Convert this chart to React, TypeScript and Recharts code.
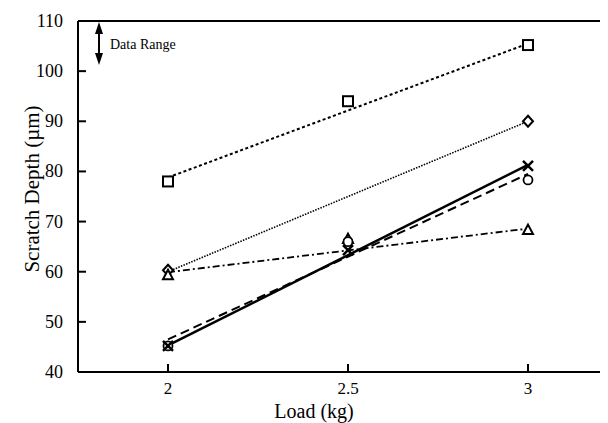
import { ComposedChart, Line, Scatter, XAxis, YAxis, ReferenceLine } from "recharts";

// load values (kg) on the x axis
const loads = [2, 2.5, 3];
const fitLoads = [2, 3];
const xTicks = [2, 2.5, 3];
const yTicks = [40, 50, 60, 70, 80, 90, 100, 110];

const squareDepth = [78, 94, 105.2];
const diamondLoads = [2, 3];
const diamondDepth = [60.3, 90];
const triangleDepth = [59.3, 66.5, 68.3];
const circleDepth = [45.2, 66, 78.3];
const crossDepth = [45.2, 64.3, 81.1];

// fitted line ends at 2 kg and 3 kg
const squareFit = [78.8, 105.5];
const diamondFit = [60, 90];
const triangleFit = [59.9, 68.6];
const circleFit = [46.5, 79.5];
const crossFit = [45.3, 81.3];

const rows = (xs: number[], ys: number[]) => xs.map((x, i) => ({ x, y: ys[i] }));

const FONT = "'Liberation Serif', 'Times New Roman', serif";

const SquareDot = ({ cx, cy }: any) => (
  <rect x={cx - 5} y={cy - 5} width={10} height={10} fill="#fff" stroke="#000" strokeWidth={2} />
);
const DiamondDot = ({ cx, cy }: any) => (
  <polygon
    points={`${cx},${cy - 5.5} ${cx + 5},${cy} ${cx},${cy + 5.5} ${cx - 5},${cy}`}
    fill="#fff"
    stroke="#000"
    strokeWidth={2}
  />
);
const TriangleDot = ({ cx, cy }: any) => (
  <polygon
    points={`${cx},${cy - 5.5} ${cx + 5},${cy + 4} ${cx - 5},${cy + 4}`}
    fill="#fff"
    stroke="#000"
    strokeWidth={2}
  />
);
const CircleDot = ({ cx, cy }: any) => (
  <circle cx={cx} cy={cy} r={4.5} fill="#fff" stroke="#000" strokeWidth={1.8} />
);
const CrossDot = ({ cx, cy }: any) => (
  <g stroke="#000" strokeWidth={2.5}>
    <line x1={cx - 5} y1={cy - 5} x2={cx + 5} y2={cy + 5} />
    <line x1={cx - 5} y1={cy + 5} x2={cx + 5} y2={cy - 5} />
  </g>
);

const YTick = ({ x, y, payload }: any) => (
  <g>
    <line x1={x} x2={x + 8} y1={y} y2={y} stroke="#000" strokeWidth={2} />
    <text x={x - 15} y={y} dy={6} textAnchor="end" fontFamily={FONT} fontSize={18} fill="#000">
      {payload.value}
    </text>
  </g>
);

const XTick = ({ x, y, payload }: any) => (
  <g>
    <line x1={x} x2={x} y1={y} y2={y - 8} stroke="#000" strokeWidth={2} />
    <text x={x} y={y + 22} textAnchor="middle" fontFamily={FONT} fontSize={17} fill="#000">
      {payload.value}
    </text>
  </g>
);

export default function App() {
  return (
    <div style={{ position: "relative", width: 600, height: 415, overflow: "hidden" }}>
      <ComposedChart width={612} height={415} margin={{ top: 13, right: 2, left: 0, bottom: 0 }}>
        <XAxis
          dataKey="x"
          type="number"
          domain={[1.75, 3.25]}
          ticks={xTicks}
          allowDataOverflow
          height={51}
          tickSize={0}
          tickMargin={0}
          tick={<XTick />}
          axisLine={{ stroke: "#000", strokeWidth: 2 }}
          label={{
            content: () => (
              <text x={306} y={410} textAnchor="middle" fontFamily={FONT} fontSize={20} fill="#000">
                Load (kg)
              </text>
            ),
          }}
        />
        <YAxis
          dataKey="y"
          type="number"
          domain={[40, 110]}
          ticks={yTicks}
          width={70}
          tickSize={0}
          tickMargin={0}
          tick={<YTick />}
          axisLine={{ stroke: "#000", strokeWidth: 2 }}
          label={{
            content: () => (
              <text
                x={31}
                y={181}
                transform="rotate(-90 31 181)"
                textAnchor="middle"
                fontFamily={FONT}
                fontSize={21}
                fill="#000"
              >
                Scratch Depth (µm)
              </text>
            ),
          }}
        />
        <ReferenceLine y={110} stroke="#000" strokeWidth={2} />

        <Line data={rows(fitLoads, squareFit)} dataKey="y" type="linear" stroke="#000" strokeWidth={2} strokeDasharray="3 2.5" dot={false} isAnimationActive={false} />
        <Line data={rows(fitLoads, diamondFit)} dataKey="y" type="linear" stroke="#000" strokeWidth={1.6} strokeDasharray="1.5 1.3" dot={false} isAnimationActive={false} />
        <Line data={rows(fitLoads, triangleFit)} dataKey="y" type="linear" stroke="#000" strokeWidth={1.8} strokeDasharray="7 3 2 3" dot={false} isAnimationActive={false} />
        <Line data={rows(fitLoads, circleFit)} dataKey="y" type="linear" stroke="#000" strokeWidth={2} strokeDasharray="9 5" dot={false} isAnimationActive={false} />
        <Line data={rows(fitLoads, crossFit)} dataKey="y" type="linear" stroke="#000" strokeWidth={2.5} dot={false} isAnimationActive={false} />

        <Scatter data={rows(loads, squareDepth)} dataKey="y" shape={<SquareDot />} isAnimationActive={false} />
        <Scatter data={rows(diamondLoads, diamondDepth)} dataKey="y" shape={<DiamondDot />} isAnimationActive={false} />
        <Scatter data={rows(loads, triangleDepth)} dataKey="y" shape={<TriangleDot />} isAnimationActive={false} />
        <Scatter data={rows(loads, circleDepth)} dataKey="y" shape={<CircleDot />} isAnimationActive={false} />
        <Scatter data={rows(loads, crossDepth)} dataKey="y" shape={<CrossDot />} isAnimationActive={false} />
      </ComposedChart>

      {/* "Data Range" double arrow annotation */}
      <svg width={200} height={70} style={{ position: "absolute", left: 0, top: 0, pointerEvents: "none" }}>
        <line x1={91} y1={22} x2={91} y2={48} stroke="#000" strokeWidth={2} />
        <polygon points="91,14 95,26 87,26" fill="#000" />
        <polygon points="91,57 95,45 87,45" fill="#000" />
        <text x={102} y={41} fontFamily={FONT} fontSize={14} fill="#000">
          Data Range
        </text>
      </svg>
    </div>
  );
}
